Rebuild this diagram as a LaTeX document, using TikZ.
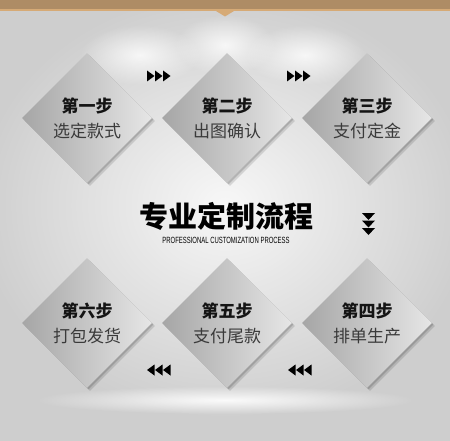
\documentclass[tikz,border=0pt]{standalone}
\usepackage{fontspec}
\setmainfont{Noto Sans CJK SC}
\newfontfamily\latinfont{Liberation Sans}
\usetikzlibrary{shapes.geometric,shadows,fadings}

\definecolor{bandbrown}{HTML}{AE8C65}
\definecolor{bandtan}{HTML}{D6AA76}
\definecolor{bggray}{HTML}{CECECE}
\definecolor{diadark}{HTML}{A6A6A6}
\definecolor{dialight}{HTML}{E6E6E6}
\definecolor{textdark}{HTML}{141414}
\definecolor{textgray}{HTML}{3A3A3A}

\tikzfading[name=glow, inner color=transparent!0, outer color=transparent!100]

\tikzset{
  stepbox/.style={diamond, aspect=1, minimum width=130pt, minimum height=130pt,
    inner sep=0pt, left color=diadark, right color=dialight,
    drop shadow={shadow xshift=3pt, shadow yshift=-3pt, opacity=0.12, fill=black},
    drop shadow={shadow xshift=1.5pt, shadow yshift=-1.5pt, opacity=0.15, fill=black},
    align=center, text=textgray, font=\fontsize{17}{25}\selectfont},
  marker/.style={fill=black}
}

\begin{document}
\begin{tikzpicture}[x=1pt,y=-1pt]
\useasboundingbox (0,0) rectangle (450,441);

% background
\fill[bggray] (0,0) rectangle (450,441);
\fill[white, opacity=0.85, path fading=glow] (225,205) ellipse (250 and 215);
\fill[white, opacity=0.8, path fading=glow] (140,55) ellipse (60 and 30);
\fill[white, opacity=0.8, path fading=glow] (225,45) ellipse (50 and 30);
\fill[white, opacity=0.8, path fading=glow] (305,55) ellipse (60 and 30);
\fill[white, opacity=0.9, path fading=glow] (225,400) ellipse (190 and 14);

% top band
\fill[bandbrown] (0,0) rectangle (450,9);
\fill[bandtan] (0,9) rectangle (450,11);
\fill[bandtan] (216,11) -- (234,11) -- (225,16.5) -- cycle;

\node (s1) at (87,118) [stepbox] {\textbf{\color{textdark}第一步}\\选定款式};
\node (s2) at (227,118) [stepbox] {\textbf{\color{textdark}第二步}\\出图确认};
\node (s3) at (367,118) [stepbox] {\textbf{\color{textdark}第三步}\\支付定金};
\node (s4) at (367,323) [stepbox] {\textbf{\color{textdark}第四步}\\排单生产};
\node (s5) at (227,323) [stepbox] {\textbf{\color{textdark}第五步}\\支付尾款};
\node (s6) at (87,323) [stepbox] {\textbf{\color{textdark}第六步}\\打包发货};

\node (title) at (226,216) {\fontsize{29}{29}\selectfont\bfseries 专业定制流程};
\node (sub) at (226,240) {\latinfont\fontsize{9}{9}\selectfont\scalebox{0.66}[1]{PROFESSIONAL CUSTOMIZATION PROCESS}};

% direction marks
\foreach \x in {147,287} {
  \foreach \i in {0,1,2}
    \fill[marker] (\x+8*\i,70.5) -- (\x+8*\i+7.5,76) -- (\x+8*\i,81.5) -- cycle;
}
\foreach \x in {147,288} {
  \foreach \i in {0,1,2}
    \fill[marker] (\x+8*\i+7.5,364.5) -- (\x+8*\i,370) -- (\x+8*\i+7.5,375.5) -- cycle;
}
\foreach \y in {213,220.5,228}
  \fill[marker] (362,\y) -- (375,\y) -- (368.5,\y+7) -- cycle;

\end{tikzpicture}
\end{document}
